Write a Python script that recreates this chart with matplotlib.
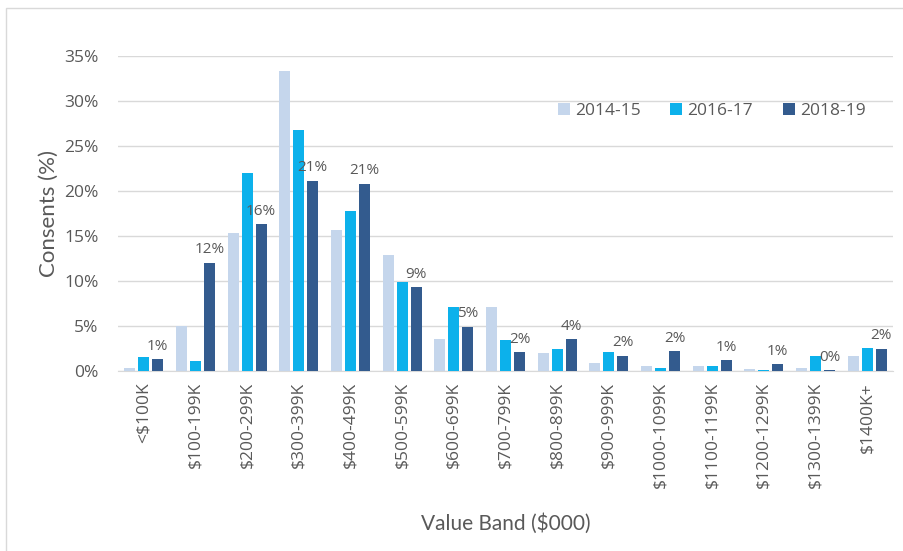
import numpy as np
import matplotlib.pyplot as plt
from matplotlib.patches import Rectangle
from matplotlib.ticker import FuncFormatter

bands = ['<$100K', '$100-199K', '$200-299K', '$300-399K', '$400-499K', '$500-599K',
         '$600-699K', '$700-799K', '$800-899K', '$900-999K', '$1000-1099K',
         '$1100-1199K', '$1200-1299K', '$1300-1399K', '$1400K+']
y2014_15 = [0.3, 5.0, 15.3, 33.3, 15.7, 12.9, 3.6, 7.1, 2.0, 0.85, 0.5, 0.6, 0.2, 0.35, 1.7]
y2016_17 = [1.6, 1.1, 22.0, 26.8, 17.8, 9.9, 7.1, 3.4, 2.4, 2.1, 0.35, 0.6, 0.1, 1.7, 2.6]
y2018_19 = [1.3, 12.0, 16.3, 21.1, 20.8, 9.3, 4.9, 2.1, 3.5, 1.7, 2.2, 1.2, 0.75, 0.1, 2.45]
series_names = ['2014-15', '2016-17', '2018-19']
colors = ['#C5D6EC', '#0CB1EB', '#335B8E']

text_gray = '#595959'

fig = plt.figure(figsize=(9.04, 5.51), dpi=100)
ax = fig.add_axes([118 / 904, 1 - 371 / 551, (893 - 118) / 904, (371 - 55.7) / 551])

# chart frame
fig.patches.append(Rectangle((6 / 904, -0.1), 1.2, 1 - 8 / 551 + 0.1, transform=fig.transFigure,
                             fill=False, edgecolor='#D9D9D9', linewidth=1))

x = np.arange(len(bands))
w = 0.21
step = 0.27
for i, (vals, name) in enumerate(zip([y2014_15, y2016_17, y2018_19], series_names)):
    ax.bar(x + (i - 1) * step, vals, width=w, color=colors[i], label=name, zorder=3)

# labels on latest series
for xi, v in zip(x, y2018_19):
    ax.annotate(f'{v:.0f}%', (xi + step, v), xytext=(0, 4), textcoords='offset points',
                ha='center', va='bottom', fontsize=11, color=text_gray, family='Open Sans')

ax.set_xlim(-0.5, len(bands) - 0.5)
ax.set_ylim(0, 35)
ax.set_yticks(np.arange(0, 36, 5))
ax.yaxis.set_major_formatter(FuncFormatter(lambda v, p: f'{v:.0f}%'))
ax.grid(axis='y', color='#D9D9D9', linewidth=1, zorder=0)
ax.set_xticks(x)
ax.set_xticklabels(bands, rotation=90, fontsize=12.5, color=text_gray, family='Open Sans')
for lbl in ax.get_yticklabels():
    lbl.set_family('Open Sans')
ax.tick_params(axis='y', length=0, pad=14, labelsize=12.5, labelcolor=text_gray)
ax.tick_params(axis='x', length=0, pad=8)
for s in ['top', 'right', 'left']:
    ax.spines[s].set_visible(False)
ax.spines['bottom'].set_color('#D9D9D9')

ax.set_ylabel('Consents (%)', fontsize=16, color=text_gray, family='Lato', labelpad=4)
ax.set_xlabel('Value Band ($000)', fontsize=15, color=text_gray, family='Lato', labelpad=18)

leg = ax.legend(loc='upper right', bbox_to_anchor=(0.985, 0.9), ncol=3, frameon=False,
                fontsize=12.5, handlelength=0.7, handleheight=0.7, handletextpad=0.3,
                columnspacing=1.7)
for t in leg.get_texts():
    t.set_color(text_gray)
    t.set_family('Open Sans')

fig.savefig('out.png', dpi=100)
